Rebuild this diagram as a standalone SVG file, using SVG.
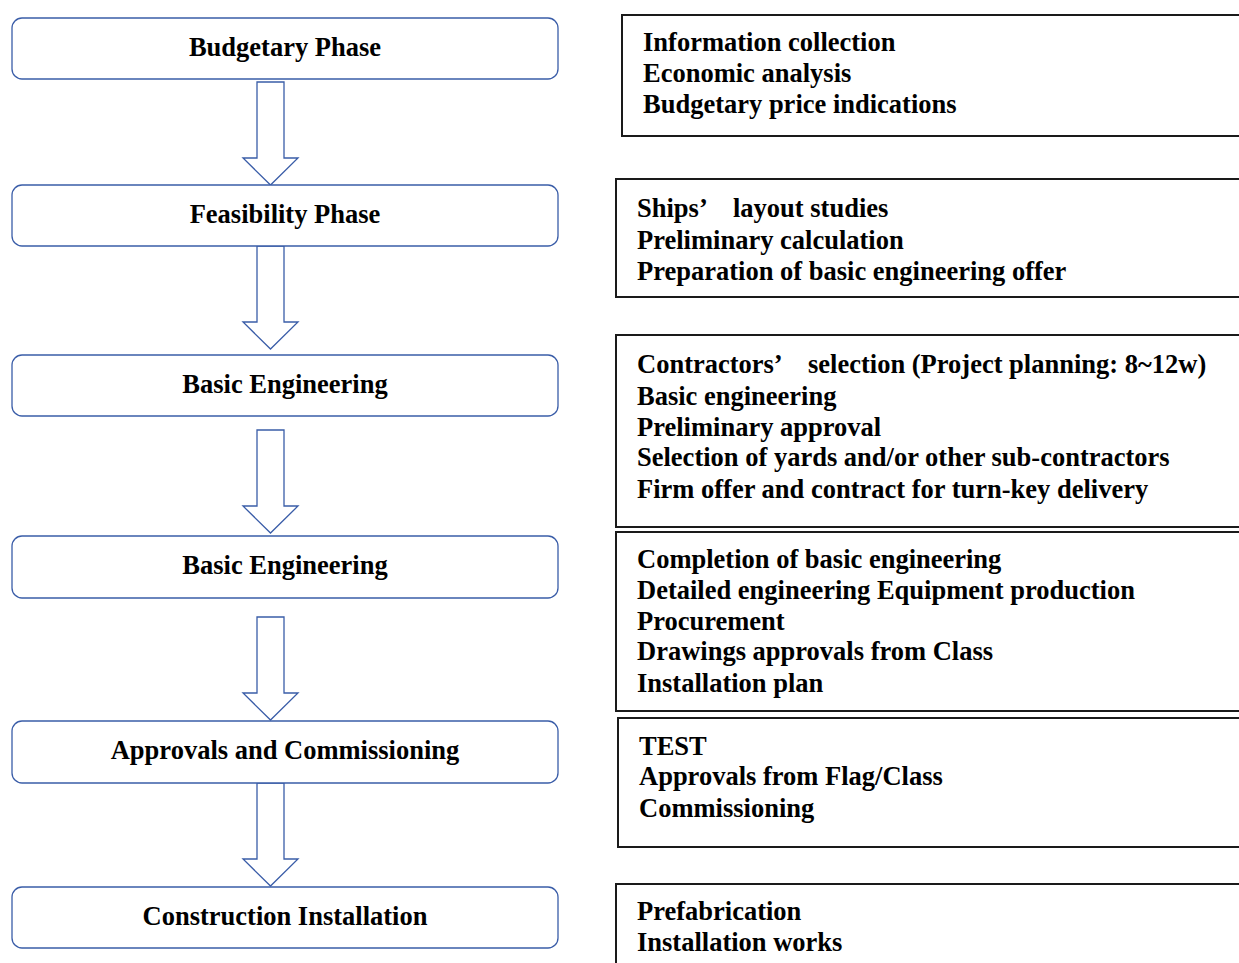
<svg xmlns="http://www.w3.org/2000/svg" width="1239" height="963" viewBox="0 0 1239 963">
<style>
.node{fill:#fff;stroke:#3A5DA8;stroke-width:1.3}
.lbl{font-family:"Liberation Serif","Times New Roman",serif;font-weight:bold;font-size:26.5px;fill:#000;text-anchor:middle}
.box{fill:#fff;stroke:#1a1a1a;stroke-width:2}
.txt{font-family:"Liberation Serif","Times New Roman",serif;font-weight:bold;font-size:26.5px;fill:#000}
.arr{fill:#fff;stroke:#3A5DA8;stroke-width:1.3;stroke-linejoin:miter}
</style>
<rect width="1239" height="963" fill="#fff"/>
<g id="connectors">
<path class="arr" d="M257,82 H284 V158 H298 L270.5,185 L243,158 H257 Z"/>
<path class="arr" d="M257,246 H284 V322 H298 L270.5,349 L243,322 H257 Z"/>
<path class="arr" d="M257,430 H284 V506 H298 L270.5,533 L243,506 H257 Z"/>
<path class="arr" d="M257,617 H284 V693 H298 L270.5,720 L243,693 H257 Z"/>
<path class="arr" d="M257,783 H284 V859 H298 L270.5,886 L243,859 H257 Z"/>
</g>
<g id="n1"><rect class="node" x="12" y="18" width="546" height="61" rx="10"/><text class="lbl" x="285" y="56">Budgetary Phase</text></g>
<g id="n2"><rect class="node" x="12" y="185" width="546" height="61" rx="10"/><text class="lbl" x="285" y="223">Feasibility Phase</text></g>
<g id="n3"><rect class="node" x="12" y="355" width="546" height="61" rx="10"/><text class="lbl" x="285" y="393">Basic Engineering</text></g>
<g id="n4"><rect class="node" x="12" y="536" width="546" height="62" rx="10"/><text class="lbl" x="285" y="574">Basic Engineering</text></g>
<g id="n5"><rect class="node" x="12" y="721" width="546" height="62" rx="10"/><text class="lbl" x="285" y="759">Approvals and Commissioning</text></g>
<g id="n6"><rect class="node" x="12" y="887" width="546" height="61" rx="10"/><text class="lbl" x="285" y="925">Construction Installation</text></g>
<g id="b1"><rect class="box" x="622" y="15" width="630" height="121"/>
<text class="txt" x="643" y="51">Information collection</text>
<text class="txt" x="643" y="82">Economic analysis</text>
<text class="txt" x="643" y="113">Budgetary price indications</text></g>
<g id="b2"><rect class="box" x="616" y="179" width="636" height="118"/>
<text class="txt" x="637" y="217">Ships’<tspan x="733">layout studies</tspan></text>
<text class="txt" x="637" y="249">Preliminary calculation</text>
<text class="txt" x="637" y="280">Preparation of basic engineering offer</text></g>
<g id="b3"><rect class="box" x="616" y="335" width="636" height="192"/>
<text class="txt" x="637" y="373">Contractors’<tspan x="808">selection (Project planning: 8~12w)</tspan></text>
<text class="txt" x="637" y="405">Basic engineering</text>
<text class="txt" x="637" y="436">Preliminary approval</text>
<text class="txt" x="637" y="466">Selection of yards and/or other sub-contractors</text>
<text class="txt" x="637" y="498">Firm offer and contract for turn-key delivery</text></g>
<g id="b4"><rect class="box" x="616" y="532" width="636" height="179"/>
<text class="txt" x="637" y="568">Completion of basic engineering</text>
<text class="txt" x="637" y="599">Detailed engineering Equipment production</text>
<text class="txt" x="637" y="630">Procurement</text>
<text class="txt" x="637" y="660">Drawings approvals from Class</text>
<text class="txt" x="637" y="692">Installation plan</text></g>
<g id="b5"><rect class="box" x="618" y="718" width="634" height="129"/>
<text class="txt" x="639" y="755">TEST</text>
<text class="txt" x="639" y="785">Approvals from Flag/Class</text>
<text class="txt" x="639" y="817">Commissioning</text></g>
<g id="b6"><rect class="box" x="616" y="884" width="636" height="100"/>
<text class="txt" x="637" y="920">Prefabrication</text>
<text class="txt" x="637" y="951">Installation works</text></g>
</svg>
